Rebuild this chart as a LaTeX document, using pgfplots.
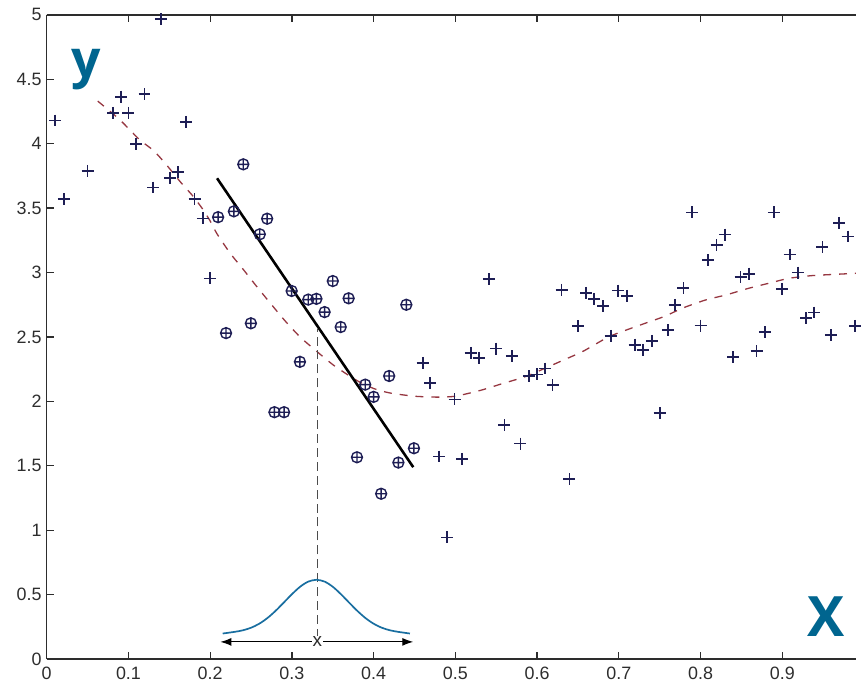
\documentclass[border=0pt]{standalone}
\usepackage{pgfplots}
\pgfplotsset{compat=1.18}
\usepackage{fontspec}
\setmainfont{Liberation Sans}
\newfontfamily\labfont{Open Sans}
\usetikzlibrary{arrows.meta,plotmarks}
\definecolor{navy}{RGB}{30,30,85}
\definecolor{curvered}{RGB}{150,55,65}
\definecolor{bluelab}{RGB}{0,101,143}
\definecolor{bellblue}{RGB}{25,110,160}
\definecolor{axgray}{RGB}{45,45,45}
\begin{document}
\begin{tikzpicture}
\begin{axis}[
  scale only axis, width=814pt, height=648pt,
  xmin=0, xmax=0.99, ymin=0, ymax=5,
  axis x line*=box, axis y line*=left,
  xtick pos=both, ytick pos=left, xticklabel pos=lower,
  xtick={0,0.1,0.2,0.3,0.4,0.5,0.6,0.7,0.8,0.9},
  xticklabels={0,0.1,0.2,0.3,0.4,0.5,0.6,0.7,0.8,0.9},
  ytick={0,0.5,1,1.5,2,2.5,3,3.5,4,4.5,5},
  yticklabels={0,0.5,1,1.5,2,2.5,3,3.5,4,4.5,5},
  tick align=inside, major tick length=7pt,
  tick label style={font=\fontsize{18}{20}\selectfont, text=axgray},
  yticklabel style={inner sep=0pt, xshift=-5pt},
  xticklabel style={inner sep=0pt, yshift=-8pt},
  axis line style={line width=1.3pt, axgray},
  every tick/.style={line width=1.3pt, axgray},
  /pgf/number format/assume math mode=true,
]
% kernel regression curve
\addplot[curvered, line width=1.3pt, dash pattern=on 8pt off 8pt, smooth, tension=0.4] coordinates {
(0.0624,4.331)(0.0888,4.19)(0.113,4.035)(0.131,3.945)(0.1456,3.843)(0.164,3.70)(0.178,3.60)(0.19,3.50)(0.20,3.40)(0.2084,3.30)(0.2247,3.148)(0.241,3.02)(0.257,2.891)(0.2753,2.749)(0.2916,2.625)(0.31,2.50)(0.33,2.39)(0.3524,2.274)(0.38,2.16)(0.40,2.10)(0.42,2.065)(0.45,2.04)(0.478,2.033)(0.50,2.04)(0.531,2.086)(0.557,2.137)(0.5876,2.197)(0.632,2.32)(0.6566,2.39)(0.689,2.505)(0.7295,2.60)(0.756,2.66)(0.778,2.724)(0.8066,2.788)(0.831,2.826)(0.859,2.878)(0.8836,2.917)(0.908,2.955)(0.936,2.976)(0.9647,2.986)(0.99,2.994)
};
% plus points
\addplot[only marks, mark=+, mark size=6pt, navy, mark options={line width=1.7pt}] coordinates {
(0.0105,4.18)(0.021,3.57)(0.050,3.79)(0.0815,4.24)(0.091,4.365)(0.100,4.24)(0.1095,4.00)(0.1196,4.385)(0.130,3.66)(0.1395,4.97)(0.151,3.735)(0.1606,3.78)(0.1707,4.17)(0.181,3.57)(0.191,3.42)(0.1995,2.955)
(0.460,2.30)(0.469,2.14)(0.480,1.572)(0.490,0.944)(0.499,2.015)(0.5085,1.553)(0.5187,2.377)(0.5288,2.338)(0.541,2.948)(0.550,2.41)(0.560,1.816)(0.569,2.351)(0.5795,1.672)(0.590,2.197)(0.600,2.209)(0.610,2.255)(0.619,2.125)(0.630,2.865)(0.6395,1.397)(0.650,2.585)(0.6598,2.842)(0.670,2.796)(0.681,2.739)(0.690,2.508)(0.699,2.86)(0.710,2.82)(0.7194,2.44)(0.7295,2.40)(0.7405,2.47)(0.750,1.908)(0.760,2.554)(0.769,2.75)(0.779,2.878)(0.7895,3.467)(0.800,2.588)(0.8094,3.097)(0.8196,3.212)(0.830,3.295)(0.840,2.343)(0.849,2.963)(0.859,2.991)(0.8686,2.39)(0.8787,2.536)(0.8897,3.467)(0.900,2.873)(0.909,3.14)(0.919,3.00)(0.929,2.647)(0.939,2.69)(0.949,3.197)(0.9595,2.513)(0.9696,3.385)(0.980,3.28)(0.989,2.587)
};
% circled-plus points (neighbourhood)
\addplot[only marks, mark=oplus, mark size=5.5pt, navy, mark options={line width=1.4pt}] coordinates {
(0.2097,3.43)(0.2194,2.53)(0.229,3.475)(0.2405,3.84)(0.2498,2.606)(0.2607,3.297)(0.2697,3.418)(0.2786,1.916)(0.2904,1.916)(0.2997,2.857)(0.3098,2.307)(0.320,2.79)(0.330,2.796)(0.340,2.693)(0.350,2.934)(0.3597,2.577)(0.3694,2.80)(0.3796,1.566)(0.3897,2.13)(0.400,2.035)(0.4092,1.283)(0.419,2.197)(0.4303,1.525)(0.440,2.75)(0.4493,1.636)
};
% local linear fit
\addplot[black, line width=2.6pt] coordinates {(0.2084,3.732)(0.4485,1.489)};
% vertical dashed line
\addplot[black!70, line width=1.4pt, dash pattern=on 9pt off 5pt] coordinates {(0.331,0.165)(0.331,2.56)};
% kernel (bell)
\addplot[bellblue, line width=1.7pt, smooth] coordinates {
(0.2153,0.198)(0.230,0.211)(0.240,0.223)(0.250,0.243)(0.260,0.274)(0.270,0.318)(0.280,0.374)(0.290,0.438)(0.300,0.503)(0.310,0.561)(0.320,0.601)(0.330,0.615)(0.340,0.601)(0.350,0.561)(0.360,0.503)(0.370,0.438)(0.380,0.374)(0.390,0.318)(0.400,0.274)(0.410,0.243)(0.420,0.223)(0.430,0.211)(0.4444,0.198)
};
% double arrow
\addplot[black, line width=1.1pt, {Latex[length=11pt,width=8pt]}-{Latex[length=11pt,width=8pt]}] coordinates {(0.2125,0.133)(0.4485,0.133)};
\node[fill=white, inner sep=1pt, font=\fontsize{19}{20}\selectfont, text=axgray] at (axis cs:0.331,0.133) {x};
\node[anchor=base west, inner sep=0pt, text=bluelab, font=\labfont\bfseries\fontsize{52}{52}\selectfont] at (axis cs:0.030,4.514) {y};
\node[anchor=base west, inner sep=0pt, text=bluelab, font=\labfont\bfseries\fontsize{56}{56}\selectfont] at (axis cs:0.930,0.1775) {X};
\end{axis}
\path (current axis.south west) ++(-47pt,-25pt) coordinate (bl);
\path (current axis.north east) ++(0pt,15pt) coordinate (tr);
\path (bl) rectangle (tr);
\end{tikzpicture}
\end{document}
